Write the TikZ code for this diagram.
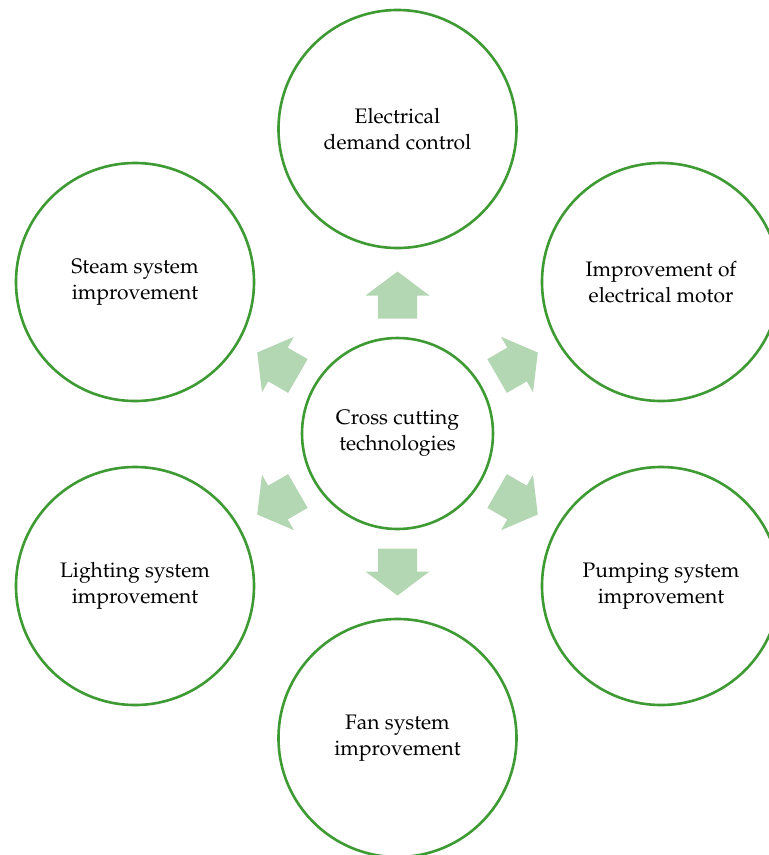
\documentclass[tikz,border=0pt]{standalone}
\usepackage[T1]{fontenc}
\usepackage{mathpazo}
\begin{document}
\begin{tikzpicture}[x=1pt,y=-1pt,
  circ/.style={circle,draw=ringgreen,line width=2.6pt,fill=white,minimum size=#1,inner sep=0pt,align=center,font=\fontsize{21}{26}\selectfont},
  blockarrow/.style={fill=arrowgreen,draw=none}]
\definecolor{ringgreen}{RGB}{62,154,50}
\definecolor{arrowgreen}{RGB}{179,214,179}
\useasboundingbox (0,0) rectangle (769,855);
\begin{scope}
\clip (0,0) rectangle (769,855);
\node[circ=191pt] (c) at (397.5,433.5) {Cross cutting\\technologies};
\node[circ=238pt] (t) at (397.5,129) {Electrical\\demand control};
\node[circ=238pt] (tr) at (661,282) {Improvement of\\electrical motor};
\node[circ=238pt] (br) at (661,586) {Pumping system\\improvement};
\node[circ=238pt] (b) at (397.5,738) {Fan system\\improvement};
\node[circ=238pt] (bl) at (135,586) {Lighting system\\improvement};
\node[circ=238pt] (tl) at (135,282) {Steam system\\improvement};
\end{scope}
\foreach \ang in {90,30,-30,-90,210,150}{
  \begin{scope}[shift={(397.5,433.5)},rotate=-\ang]
    \fill[blockarrow] (115,-19.5) -- (138,-19.5) -- (138,-32) -- (162,0) -- (138,32) -- (138,19.5) -- (115,19.5) -- cycle;
  \end{scope}
}
\end{tikzpicture}
\end{document}
